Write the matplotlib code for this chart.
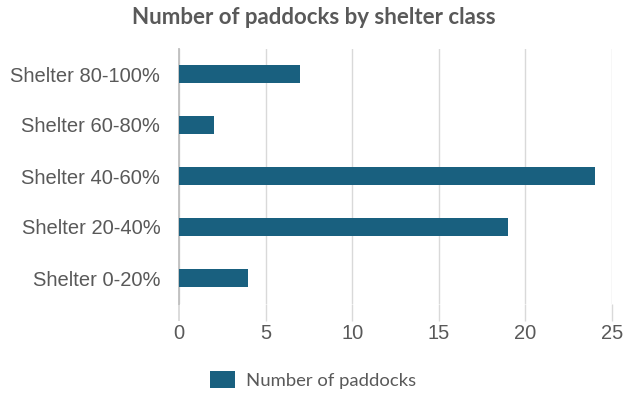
import matplotlib
matplotlib.use("Agg")
import matplotlib.pyplot as plt
from matplotlib.patches import Patch

categories = ["Shelter 80-100%", "Shelter 60-80%", "Shelter 40-60%", "Shelter 20-40%", "Shelter 0-20%"]
paddocks = [7, 2, 24, 19, 4]
xticks = [0, 5, 10, 15, 20, 25]

bar_color = "#19607f"
text_grey = "#595959"
grid_grey = "#d9d9d9"
axis_grey = "#bfbfbf"

fig = plt.figure(figsize=(6.24, 3.96), dpi=100)
ax = fig.add_axes([179 / 624, 1 - 303.5 / 396, 433 / 624, 255 / 396])

ypos = list(range(len(categories)))
ax.barh(ypos, paddocks, height=0.37, color=bar_color, zorder=3)
ax.set_ylim(len(categories) - 0.5, -0.5)
ax.set_xlim(0, 25)
ax.set_xticks(xticks)
ax.set_xticklabels([str(t) for t in xticks], fontsize=14.5, color=text_grey, family="Liberation Sans")
ax.set_yticks(ypos)
ax.set_yticklabels(categories, fontsize=14.5, color=text_grey, family="Liberation Sans")

ax.grid(axis="x", color=grid_grey, linewidth=1, zorder=0)
for s in ["top", "right", "bottom"]:
    ax.spines[s].set_visible(False)
ax.spines["left"].set_color(axis_grey)
ax.spines["left"].set_linewidth(1.3)
ax.tick_params(axis="y", length=0, pad=13.5)
ax.tick_params(axis="x", length=12, width=1, color=grid_grey, pad=3)
zero_tick = ax.xaxis.get_major_ticks()[0]
zero_tick.tick1line.set_color(axis_grey)
zero_tick.tick1line.set_markeredgewidth(1.3)

fig.text(0.503, 0.957, "Number of paddocks by shelter class", ha="center", va="center",
         fontsize=16, fontweight="bold", color=text_grey, family="Lato")

handles = [Patch(facecolor=bar_color, label="Number of paddocks")]
fig.legend(handles=handles, loc="center", bbox_to_anchor=(0.502, 0.04), frameon=False,
           prop={"family": "Lato", "size": 13.3}, labelcolor=text_grey,
           handlelength=1.35, handleheight=1.0, handletextpad=0.6)

fig.savefig("out.png", dpi=100)
